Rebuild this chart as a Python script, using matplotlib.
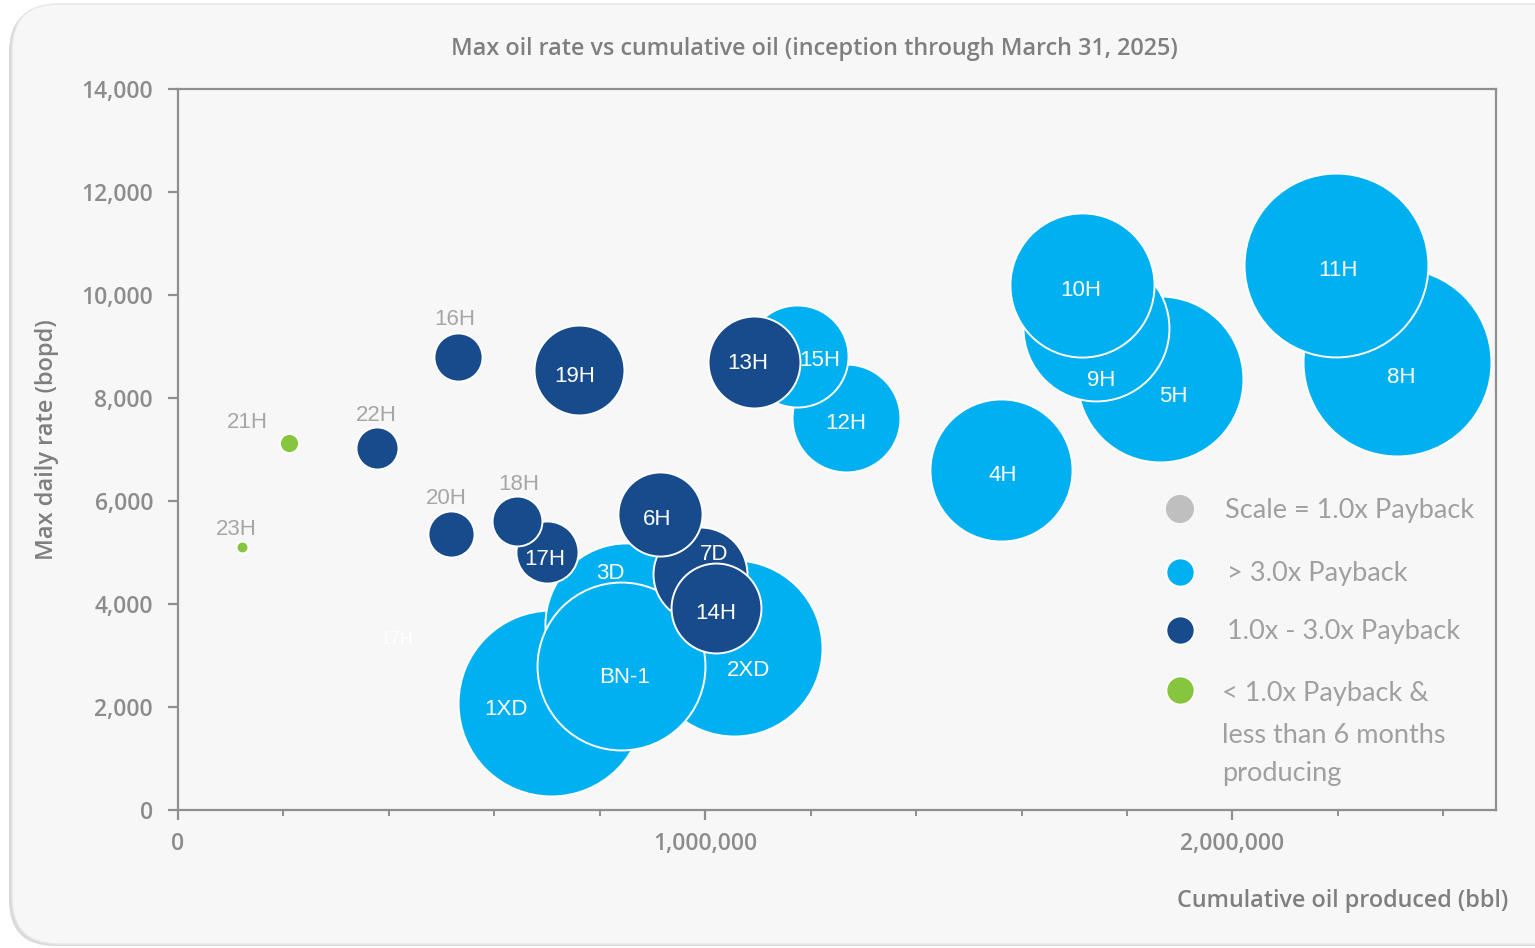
import matplotlib
matplotlib.use("Agg")
import matplotlib.pyplot as plt
from matplotlib.patches import FancyBboxPatch
from matplotlib.ticker import FuncFormatter, MultipleLocator, FixedLocator

# ---------------- data ----------------
wells = ["8H", "11H", "5H", "9H", "10H", "4H", "12H", "15H", "1XD", "2XD", "3D", "BN-1",
         "7D", "6H", "14H", "17H", "18H", "13H", "19H", "16H", "20H", "22H",
         "21H", "23H"]
cum_oil = [2313000, 2197000, 1862000, 1742000, 1714000, 1562000, 1268000, 1175000,
           708000, 1055000, 850000, 841000,
           990000, 915000, 1021000, 700000, 643000, 1093000, 761000, 531000, 518000, 378000,
           211000, 121000]
max_rate = [8700, 10580, 8370, 9360, 10190, 6600, 7610, 8815,
            2080, 3150, 3610, 2800,
            4580, 5750, 3920, 5010, 5610, 8700, 8540, 8800, 5360, 7030,
            7130, 5110]
payback = [6.48, 6.34, 5.72, 5.03, 4.97, 4.90, 3.72, 3.52,
           6.41, 6.07, 5.59, 5.79,
           3.24, 2.90, 3.10, 2.14, 1.72, 3.17, 3.10, 1.66, 1.59, 1.45,
           0.66, 0.41]
category = ["gt3"] * 12 + ["1to3"] * 10 + ["lt1"] * 2

x_ticks_major = [0, 1000000, 2000000]
y_ticks = [0, 2000, 4000, 6000, 8000, 10000, 12000, 14000]
legend_labels = ["Scale = 1.0x Payback", "> 3.0x Payback", "1.0x - 3.0x Payback",
                 "< 1.0x Payback &\nless than 6 months\nproducing"]

# ---------------- styles ----------------
colors = {"gt3": "#00B0F0", "1to3": "#174B8C", "lt1": "#86C63F"}
outside_labels = {"18H", "16H", "22H", "20H", "21H", "23H"}
# label offsets in pixels (dx right, dy down)
label_offsets = {
    "11H": (2, 3), "8H": (4, 14), "10H": (-1, 3), "9H": (5, 51), "5H": (14, 16),
    "4H": (1, 3), "12H": (-1, 3), "15H": (22, 2), "13H": (-6, 0), "19H": (-5, 4),
    "6H": (-3, 4), "7D": (14, -22), "14H": (-1, 3), "2XD": (14, 21), "3D": (-16, -53),
    "BN-1": (3, 10), "1XD": (-45, 5), "17H": (-2, 6), "18H": (2, -39), "16H": (-3, -39),
    "22H": (-1, -34), "20H": (-5, -37), "21H": (-42, -22), "23H": (-5, -19),
}
DPI = 100
SCALE_R_PX = 14.5  # radius (px) of a 1.0x payback bubble
AXIS_FONT = dict(family="Open Sans", weight="semibold")

W, H = 1535, 948
fig = plt.figure(figsize=(W / DPI, H / DPI), dpi=DPI)
fig.patch.set_facecolor("white")

# panel with rounded corners and soft shadow
shadow = FancyBboxPatch((9 / W, 2 / H), (W + 40) / W, (H - 8) / H,
                        boxstyle="round,pad=0,rounding_size=0.03",
                        transform=fig.transFigure, facecolor="#d9d9d9",
                        edgecolor="none", zorder=-3, mutation_aspect=W / H)
panel = FancyBboxPatch((12 / W, 4 / H), (W + 40) / W, (H - 8) / H,
                       boxstyle="round,pad=0,rounding_size=0.03",
                       transform=fig.transFigure, facecolor="#F7F7F7",
                       edgecolor="#e6e6e6", lw=1, zorder=-2, mutation_aspect=W / H)
fig.patches.extend([shadow, panel])

ax = fig.add_axes([178 / W, (H - 810) / H, (1496 - 178) / W, (810 - 89) / H])
ax.set_zorder(1)
ax.set_facecolor("#F7F7F7")
ax.set_xlim(0, 2500000)
ax.set_ylim(0, 14000)

for sp in ax.spines.values():
    sp.set_color("#8f8f8f")
    sp.set_linewidth(1.6)

ax.xaxis.set_major_locator(FixedLocator(x_ticks_major))
ax.xaxis.set_minor_locator(MultipleLocator(200000))
ax.yaxis.set_major_locator(FixedLocator(y_ticks))
fmt = FuncFormatter(lambda v, p: f"{int(v):,}")
ax.xaxis.set_major_formatter(fmt)
ax.yaxis.set_major_formatter(fmt)

ax.tick_params(axis="x", which="major", direction="out", length=7, width=1.6,
               color="#8f8f8f", labelcolor="#8c8c8c", pad=9, labelsize=16.5)
ax.tick_params(axis="x", which="minor", direction="out", length=4, width=1.4,
               color="#8f8f8f")
ax.tick_params(axis="y", which="major", direction="out", length=7, width=1.6,
               color="#8f8f8f", labelcolor="#8c8c8c", pad=11, labelsize=16.5)
for lab in ax.get_xticklabels() + ax.get_yticklabels():
    lab.set_fontfamily(AXIS_FONT["family"])
    lab.set_fontweight(AXIS_FONT["weight"])

# bubbles
for w, xv, yv, pb, cat in zip(wells, cum_oil, max_rate, payback, category):
    d_pt = 2 * pb * SCALE_R_PX * 72 / DPI
    ax.scatter([xv], [yv], s=d_pt ** 2, color=colors[cat], edgecolors="white",
               linewidths=1.4, zorder=3, clip_on=False)

# labels
for w, xv, yv, cat in zip(wells, cum_oil, max_rate, category):
    dx, dy = label_offsets[w]
    c = "#a6a6a6" if w in outside_labels else "white"
    ax.annotate(w, (xv, yv), xytext=(dx, -(dy + 2)), textcoords="offset pixels",
                ha="center", va="center", fontsize=16, color=c,
                family="Liberation Sans", zorder=10)

# faint ghost label
i17 = wells.index("17H")
ax.annotate("17H", (cum_oil[i17], max_rate[i17]), xytext=(-150, -88),
            textcoords="offset pixels", ha="center", va="center", fontsize=13,
            color="white", family="Liberation Sans", zorder=2)

# legend (manual)
leg_circle_y = [0.4175, 0.3301, 0.2497, 0.1664]
leg_colors = ["#BFBFBF", colors["gt3"], colors["1to3"], colors["lt1"]]
leg_edges = ["none", "white", "white", "white"]
for yy, cc, ec in zip(leg_circle_y, leg_colors, leg_edges):
    ax.scatter([0.7602], [yy], s=(2 * 14 * 0.72) ** 2, color=cc, edgecolors=ec,
               linewidths=1.2, transform=ax.transAxes, zorder=5, clip_on=False)
leg_text_pos = [(0.7944, 0.4148), (0.7959, 0.3274), (0.7959, 0.2470)]
for (tx, ty), lbl in zip(leg_text_pos, legend_labels[:3]):
    ax.text(tx, ty, lbl, transform=ax.transAxes, ha="left", va="center",
            fontsize=19.5, color="#a0a0a0", family="Lato", zorder=6)
multi = legend_labels[3].split("\n")
for ty, line in zip([0.1609, 0.1027, 0.0500], multi):
    ax.text(0.7921, ty, line, transform=ax.transAxes, ha="left", va="center",
            fontsize=19.5, color="#a0a0a0", family="Lato", zorder=6)

# titles and axis labels
fig.text(814 / W, 1 - 49 / H, "Max oil rate vs cumulative oil (inception through March 31, 2025)",
         ha="center", va="center", fontsize=16.8, color="#7f7f7f", **AXIS_FONT)
fig.text(47 / W, 1 - 440 / H, "Max daily rate (bopd)", rotation=90,
         ha="center", va="center", fontsize=17, color="#7f7f7f", **AXIS_FONT)
fig.text(1508 / W, 1 - 901 / H, "Cumulative oil produced (bbl)",
         ha="right", va="center", fontsize=16.8, color="#7f7f7f", **AXIS_FONT)

fig.savefig("out.png", dpi=DPI, facecolor=fig.get_facecolor())
